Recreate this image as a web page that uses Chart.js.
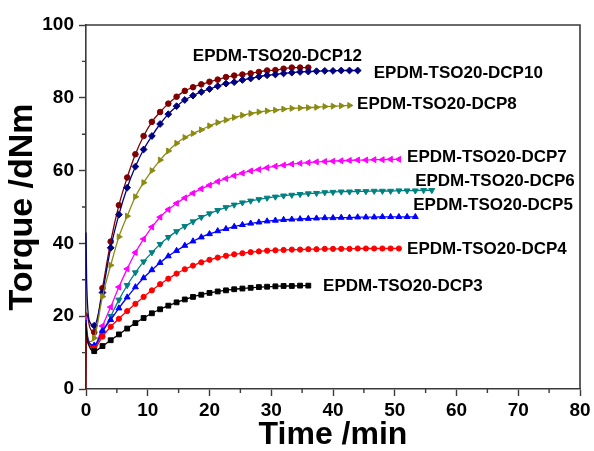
<!DOCTYPE html>
<html>
<head>
<meta charset="utf-8">
<script src="https://cdn.jsdelivr.net/npm/chart.js@4.4.1/dist/chart.umd.min.js"></script>
<style>
  html, body { margin: 0; padding: 0; background: #fff; }
  canvas { display: block; }
</style>
</head>
<body>
<canvas id="cure" width="594" height="451"></canvas>
<script>
const FONT = '"Liberation Sans", Arial, sans-serif';

// readings right after the rotor starts (no markers)
const startTimes = [0, 0.1, 0.6];
// times of the marked readings, min
const markTimes = [1.33, 2.67, 4, 5.33, 6.67, 8, 9.33, 10.67, 12, 13.33, 14.67, 16, 17.33, 18.67,
  20, 21.33, 22.67, 24, 25.33, 26.67, 28, 29.33, 30.67, 32, 33.33, 34.67, 36, 37.33, 38.67,
  40, 41.33, 42.67, 44, 45.33, 46.67, 48, 49.33, 50.67, 52, 53.33, 54.67, 56];

// torque, dNm
const dcp3Start = [18, 15, 11.5];
const dcp3 = [10.4, 11.8, 13.4, 15.0, 16.6, 18.1, 19.5, 20.8, 21.9, 22.9, 23.8, 24.6, 25.3, 25.9,
  26.4, 26.8, 27.1, 27.4, 27.6, 27.8, 28.0, 28.1, 28.2, 28.3, 28.3, 28.4, 28.4];
const dcp4Start = [18, 15, 12];
const dcp4 = [11.2, 14.4, 17.1, 19.3, 21.4, 23.4, 25.3, 27.1, 28.8, 30.3, 31.7, 32.9, 33.9, 34.8,
  35.5, 36.1, 36.6, 37.0, 37.3, 37.6, 37.8, 38.0, 38.1, 38.2, 38.3, 38.3, 38.4, 38.4, 38.5, 38.5,
  38.5, 38.5, 38.6, 38.6, 38.6, 38.6, 38.6, 38.6];
const dcp5Start = [19, 16, 12.5];
const dcp5 = [12.0, 16.0, 19.0, 22.2, 25.2, 28.0, 30.5, 32.7, 34.7, 36.5, 38.0, 39.4, 40.6, 41.7,
  42.6, 43.4, 44.0, 44.6, 45.1, 45.5, 45.8, 46.1, 46.3, 46.5, 46.6, 46.7, 46.8, 46.9, 47.0, 47.0,
  47.1, 47.1, 47.2, 47.2, 47.2, 47.3, 47.3, 47.3, 47.3, 47.3];
const dcp6Start = [19, 16, 12.5];
const dcp6 = [11.5, 15.5, 20.0, 24.5, 28.5, 32.0, 35.0, 37.5, 39.8, 41.7, 43.3, 44.7, 46.0, 47.2,
  48.2, 49.1, 49.9, 50.6, 51.2, 51.7, 52.1, 52.5, 52.8, 53.1, 53.3, 53.5, 53.7, 53.8, 54.0, 54.1,
  54.2, 54.2, 54.3, 54.3, 54.4, 54.4, 54.4, 54.5, 54.5, 54.5, 54.6, 54.6];
const dcp7Start = [20, 16, 12.5];
const dcp7 = [11.8, 17.3, 22.5, 28.0, 33.0, 37.5, 41.2, 44.5, 47.2, 49.3, 51.0, 52.5, 53.8, 55.0,
  56.0, 57.0, 57.8, 58.6, 59.3, 59.9, 60.3, 60.8, 61.2, 61.5, 61.8, 62.0, 62.2, 62.4, 62.5, 62.6,
  62.7, 62.8, 62.9, 62.9, 63.0, 63.0, 63.1, 63.1];
const dcp8Start = [20, 17, 13];
const dcp8 = [14.0, 25.4, 34.0, 41.8, 47.5, 52.8, 56.7, 60.0, 62.9, 65.4, 67.5, 69.1, 70.2, 71.2,
  72.3, 73.2, 73.9, 74.6, 75.2, 75.7, 76.1, 76.4, 76.6, 76.9, 77.1, 77.2, 77.3, 77.4, 77.6, 77.7,
  77.8, 77.9];
const dcp10Start = [43, 30, 18.5];
const dcp10 = [17.4, 26.5, 38.8, 47.9, 55.3, 61.1, 65.8, 69.5, 72.8, 75.5, 77.7, 79.4, 80.6, 81.6,
  82.4, 83.2, 83.9, 84.3, 84.9, 85.3, 85.8, 86.2, 86.4, 86.7, 86.9, 87.1, 87.2, 87.3, 87.4, 87.4,
  87.5, 87.5, 87.5];
const dcp12Start = [0, 21, 17];
const dcp12 = [15.6, 27.7, 40.5, 50.5, 58.1, 64.5, 69.5, 73.4, 76.1, 78.4, 80.3, 81.9, 82.9, 83.7,
  84.4, 85.0, 85.7, 86.1, 86.4, 86.7, 87.1, 87.5, 87.6, 88.0, 88.3, 88.3, 88.3];

const names = ['EPDM-TSO20-DCP3', 'EPDM-TSO20-DCP4', 'EPDM-TSO20-DCP5', 'EPDM-TSO20-DCP6',
  'EPDM-TSO20-DCP7', 'EPDM-TSO20-DCP8', 'EPDM-TSO20-DCP10', 'EPDM-TSO20-DCP12'];
// where each curve name sits (time, torque)
const nameX = [38.4, 52.0, 53.0, 53.3, 52.0, 43.9, 46.6, 17.3];
const nameY = [28.3, 38.5, 50.5, 57.1, 63.7, 78.3, 86.8, 91.5];

function curve(label, start, vals, color, style, rot, r) {
  const pts = startTimes.map((t, i) => ({ x: t, y: start[i] }))
    .concat(vals.map((v, i) => ({ x: markTimes[i], y: v })));
  return {
    label: label,
    data: pts,
    borderColor: color,
    backgroundColor: color,
    borderWidth: 1.3,
    pointStyle: style,
    rotation: rot,
    pointRadius: ctx => ctx.dataIndex < startTimes.length ? 0 : r,
    pointBorderWidth: 1,
    cubicInterpolationMode: 'monotone',
    clip: false
  };
}

const datasets = [
  curve(names[0], dcp3Start, dcp3, '#000000', 'rect', 0, 3.4),
  curve(names[1], dcp4Start, dcp4, '#ff0000', 'circle', 0, 2.6),
  curve(names[2], dcp5Start, dcp5, '#0000ff', 'triangle', 0, 3.4),
  curve(names[3], dcp6Start, dcp6, '#008080', 'triangle', 180, 3.4),
  curve(names[4], dcp7Start, dcp7, '#ff00ff', 'triangle', 270, 3.4),
  curve(names[5], dcp8Start, dcp8, '#8b8b14', 'triangle', 90, 3.4),
  curve(names[6], dcp10Start, dcp10, '#000080', 'rectRot', 0, 3.4),
  curve(names[7], dcp12Start, dcp12, '#800000', 'circle', 0, 2.8)
];

const AXIS = '#3a3a3a';

// closes the box on top/right and adds the short minor ticks
const frame = {
  id: 'frame',
  afterDraw(chart) {
    const { ctx, chartArea: { top, bottom, left, right }, scales: { x, y } } = chart;
    ctx.save();
    ctx.strokeStyle = AXIS;
    ctx.lineWidth = 1.6;
    ctx.beginPath();
    ctx.moveTo(left, top);
    ctx.lineTo(right, top);
    ctx.lineTo(right, bottom);
    ctx.stroke();
    ctx.lineWidth = 1.4;
    ctx.beginPath();
    for (let v = 5; v < 80; v += 10) {
      const px = x.getPixelForValue(v);
      ctx.moveTo(px, bottom);
      ctx.lineTo(px, bottom + 4);
    }
    for (let v = 10; v < 100; v += 20) {
      const py = y.getPixelForValue(v);
      ctx.moveTo(left, py);
      ctx.lineTo(left - 4, py);
    }
    ctx.stroke();
    ctx.restore();
  }
};

const curveNames = {
  id: 'curveNames',
  afterDatasetsDraw(chart) {
    const { ctx, scales: { x, y } } = chart;
    ctx.save();
    ctx.fillStyle = '#000';
    ctx.font = 'bold 17px ' + FONT;
    ctx.textAlign = 'left';
    ctx.textBaseline = 'middle';
    names.forEach((n, i) => {
      ctx.fillText(n, x.getPixelForValue(nameX[i]), y.getPixelForValue(nameY[i]));
    });
    ctx.restore();
  }
};

const tickFont = { family: FONT, size: 19, weight: 'bold' };

new Chart(document.getElementById('cure'), {
  type: 'line',
  data: { datasets },
  options: {
    responsive: false,
    animation: false,
    devicePixelRatio: 1,
    layout: { padding: { top: 25, right: 14, left: 0, bottom: 0 } },
    plugins: { legend: { display: false }, tooltip: { enabled: false } },
    scales: {
      x: {
        type: 'linear',
        min: 0,
        max: 80,
        afterFit: s => { s.height = 62; },
        ticks: { stepSize: 10, color: '#000', font: tickFont, padding: 3, maxRotation: 0 },
        grid: { drawOnChartArea: false, tickLength: 7, tickColor: AXIS, tickWidth: 1.4 },
        border: { color: AXIS, width: 1.6 },
        title: {
          display: true, text: 'Time /min', color: '#000', padding: 0,
          font: { family: FONT, size: 32, weight: 'bold', lineHeight: 1 }
        }
      },
      y: {
        type: 'linear',
        min: 0,
        max: 100,
        afterFit: s => { s.width = 86; },
        ticks: { stepSize: 20, color: '#000', font: tickFont, padding: 5 },
        grid: { drawOnChartArea: false, tickLength: 7, tickColor: AXIS, tickWidth: 1.4 },
        border: { color: AXIS, width: 1.6 },
        title: {
          display: true, text: 'Torque /dNm', color: '#000', padding: { top: 6, bottom: 0 },
          font: { family: FONT, size: 34, weight: 'bold', lineHeight: 1 }
        }
      }
    }
  },
  plugins: [frame, curveNames]
});
</script>
</body>
</html>
